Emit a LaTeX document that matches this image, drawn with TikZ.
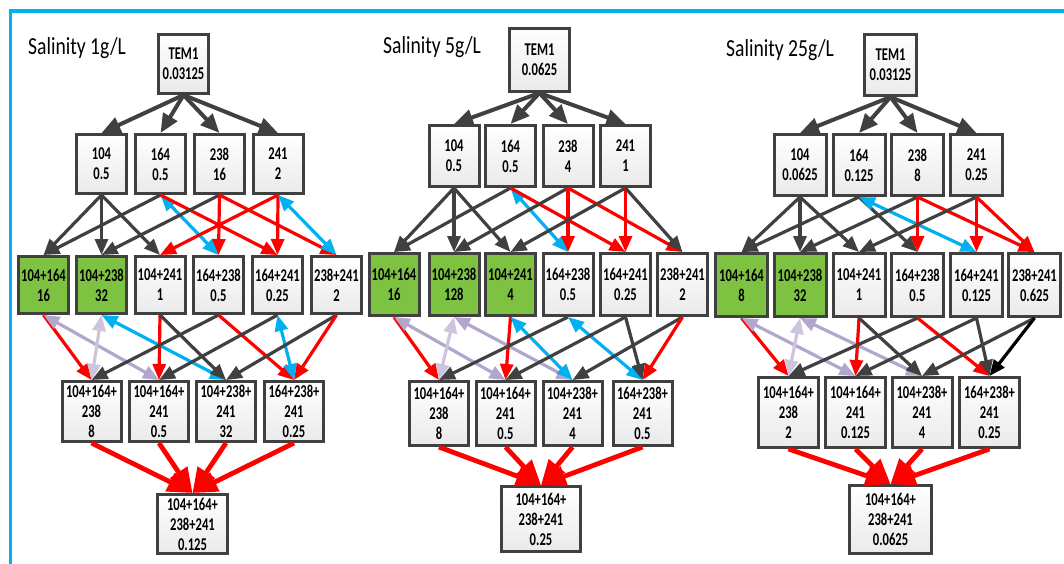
\documentclass[tikz,border=0pt]{standalone}
\usepackage{fontspec}
\setmainfont{Carlito}
\newfontfamily\cellfam{Carlito}[FakeStretch=0.7, BoldFeatures={FakeStretch=0.7}]
\newfontfamily\titlefam{Carlito}[FakeStretch=0.8]
\usetikzlibrary{arrows.meta,shadows}

\definecolor{framblue}{HTML}{00B0F0}
\definecolor{boxline}{HTML}{404040}
\definecolor{boxfill}{HTML}{EAEAEA}
\definecolor{boxgreen}{HTML}{7EC242}
\definecolor{arrdark}{HTML}{404040}
\definecolor{arrred}{HTML}{FF0000}
\definecolor{arrblue}{HTML}{00B0F0}
\definecolor{arrlav}{HTML}{B2A6CC}
\definecolor{arrlavlt}{HTML}{CDC5DD}

\newcommand\cellfont{\cellfam\fontsize{18}{20}\selectfont\bfseries}

% arrows between two rows: #1 = panel prefix, #2 = source/target/style list
\newcommand\linkset[2]{\foreach \s/\t/\k in {#2}{\draw[\k] (#1\s.south) -- (#1\t.north);}}

\tikzset{
  cell/.style 2 args={draw=boxline, line width=3pt, minimum width=#1, minimum height=#2,
    inner sep=0pt, align=center, font=\cellfont,
    drop shadow={shadow xshift=1.5pt, shadow yshift=-1.5pt, opacity=0.18}},
  plaincell/.style 2 args={cell={#1}{#2}, top color=white, bottom color=boxfill},
  greencell/.style 2 args={cell={#1}{#2}, fill=boxgreen},
  paneltitle/.style={anchor=west, inner sep=0pt, font=\titlefam\fontsize{24.5}{26}\selectfont},
  framestroke/.style={draw=framblue, line width=3.6pt},
  toparr/.style={line width=4pt, draw=arrdark, -{Triangle[length=19pt,width=16pt]}},
  midline/.style={line width=3.2pt, >={Triangle[length=16pt,width=13pt]}},
  darkarr/.style={midline, draw=arrdark, ->},
  redarr/.style={midline, draw=arrred, ->},
  bluearr/.style={midline, draw=arrblue, <->},
  lavarr/.style={midline, draw=arrlav, <->},
  lavltarr/.style={midline, draw=arrlavlt, <->},
  blackarr/.style={midline, draw=black, ->},
  finarr/.style={line width=4.8pt, draw=arrred, -{Triangle[length=25pt,width=20pt]}},
}

\begin{document}
\begin{tikzpicture}[x=1pt, y=-1pt]
\useasboundingbox (0,0) rectangle (1064,563);

% outer frame
\draw[framestroke] (10.3,565) -- (10.3,11) -- (1066,11);

% ---------------- Salinity 1g/L ----------------
\node[paneltitle] (ttlA) at (28,48) {Salinity 1g/L};
\node[plaincell={50}{59}] (A0) at (183.5,64) {TEM1\\0.03125};
\node[plaincell={50}{59}] (A1) at (101.5,164) {104\\0.5};
\node[plaincell={50}{59}] (A2) at (160.5,164) {164\\0.5};
\node[plaincell={50}{59}] (A3) at (219.5,164) {238\\16};
\node[plaincell={50}{59}] (A4) at (278,164) {241\\2};
\node[greencell={50}{57}] (A12) at (43.5,285) {104+164\\16};
\node[greencell={50}{57}] (A13) at (101.5,285) {104+238\\32};
\node[plaincell={50}{57}] (A14) at (160,285) {104+241\\1};
\node[plaincell={50}{57}] (A23) at (218.5,285) {164+238\\0.5};
\node[plaincell={50}{57}] (A24) at (277.5,285) {164+241\\0.25};
\node[plaincell={50}{57}] (A34) at (336.5,285) {238+241\\2};
\node[plaincell={59}{60}] (A123) at (91.5,411.5) {104+164+\\238\\8};
\node[plaincell={59}{60}] (A124) at (159,411.5) {104+164+\\241\\0.5};
\node[plaincell={59}{60}] (A134) at (226,411.5) {104+238+\\241\\32};
\node[plaincell={59}{60}] (A234) at (294,411.5) {164+238+\\241\\0.25};
\node[plaincell={70}{59}] (A1234) at (192.5,524) {104+164+\\238+241\\0.125};

% ---------------- Salinity 5g/L ----------------
\node[paneltitle] (ttlB) at (383,47) {Salinity 5g/L};
\node[plaincell={60}{63}] (B0) at (539.5,60) {TEM1\\0.0625};
\node[plaincell={50}{61}] (B1) at (454,156) {104\\0.5};
\node[plaincell={50}{61}] (B2) at (510.5,156) {164\\0.5};
\node[plaincell={50}{61}] (B3) at (568,156) {238\\4};
\node[plaincell={50}{61}] (B4) at (625.5,156) {241\\1};
\node[greencell={50}{62}] (B12) at (394,284.5) {104+164\\16};
\node[greencell={50}{62}] (B13) at (454,284.5) {104+238\\128};
\node[greencell={50}{62}] (B14) at (510.5,284.5) {104+241\\4};
\node[plaincell={50}{62}] (B23) at (568,284.5) {164+238\\0.5};
\node[plaincell={50}{62}] (B24) at (625.5,284.5) {164+241\\0.25};
\node[plaincell={50}{62}] (B34) at (682.5,284.5) {238+241\\2};
\node[plaincell={59}{64}] (B123) at (439,413.5) {104+164+\\238\\8};
\node[plaincell={59}{64}] (B124) at (505.5,413.5) {104+164+\\241\\0.5};
\node[plaincell={59}{64}] (B134) at (572.5,413.5) {104+238+\\241\\4};
\node[plaincell={59}{64}] (B234) at (642.5,413.5) {164+238+\\241\\0.5};
\node[plaincell={79}{65}] (B1234) at (541,519) {104+164+\\238+241\\0.25};

% ---------------- Salinity 25g/L ----------------
\node[paneltitle] (ttlC) at (726,50) {Salinity 25g/L};
\node[plaincell={52}{61}] (C0) at (890.5,65) {TEM1\\0.03125};
\node[plaincell={52}{61}] (C1) at (800,165) {104\\0.0625};
\node[plaincell={52}{61}] (C2) at (859,165) {164\\0.125};
\node[plaincell={52}{61}] (C3) at (917.5,165) {238\\8};
\node[plaincell={52}{61}] (C4) at (976.5,165) {241\\0.25};
\node[greencell={52}{63}] (C12) at (741.5,285) {104+164\\8};
\node[greencell={52}{63}] (C13) at (800,285) {104+238\\32};
\node[plaincell={52}{63}] (C14) at (859,285) {104+241\\1};
\node[plaincell={52}{63}] (C23) at (917.5,285) {164+238\\0.5};
\node[plaincell={52}{63}] (C24) at (976.5,285) {164+241\\0.125};
\node[plaincell={52}{63}] (C34) at (1034.5,285) {238+241\\0.625};
\node[plaincell={60}{70}] (C123) at (788.5,412.5) {104+164+\\238\\2};
\node[plaincell={60}{70}] (C124) at (855.5,412.5) {104+164+\\241\\0.125};
\node[plaincell={60}{70}] (C134) at (922,412.5) {104+238+\\241\\4};
\node[plaincell={60}{70}] (C234) at (989.5,412.5) {164+238+\\241\\0.25};
\node[plaincell={82}{68}] (C1234) at (890.5,519.5) {104+164+\\238+241\\0.0625};

% ---------------- connectors ----------------
\foreach \p in {A,B,C}{
  \foreach \t in {1,2,3,4}{\draw[toparr] (\p0.south) -- (\p\t.north);}
  \foreach \t in {123,124,134,234}{\draw[finarr] (\p\t.south) -- (\p1234.north);}
}

% single agents to pairs
\linkset{A}{1/12/darkarr, 1/13/darkarr, 1/14/darkarr,
  2/12/darkarr, 2/23/bluearr, 2/24/redarr,
  3/13/darkarr, 3/23/redarr, 3/34/redarr,
  4/14/redarr, 4/24/redarr, 4/34/bluearr}
\linkset{B}{1/12/darkarr, 1/13/darkarr, 1/14/darkarr,
  2/12/darkarr, 2/23/bluearr, 2/24/redarr,
  3/13/darkarr, 3/23/redarr, 3/34/redarr,
  4/14/darkarr, 4/24/redarr, 4/34/darkarr}
\linkset{C}{1/12/darkarr, 1/13/darkarr, 1/14/darkarr,
  2/12/darkarr, 2/23/darkarr, 2/24/bluearr,
  3/13/darkarr, 3/23/redarr, 3/34/redarr,
  4/14/darkarr, 4/24/redarr, 4/34/redarr}

% pairs to triples
\linkset{A}{12/123/redarr, 12/124/lavarr,
  13/123/lavltarr, 13/134/bluearr,
  14/124/redarr, 14/134/darkarr,
  23/123/darkarr, 23/234/redarr,
  24/124/darkarr, 24/234/bluearr,
  34/134/darkarr, 34/234/redarr}
\linkset{B}{12/123/redarr, 12/124/lavarr,
  13/123/lavltarr, 13/134/lavarr,
  14/124/redarr, 14/134/bluearr,
  23/123/darkarr, 23/234/bluearr,
  24/124/darkarr, 24/234/darkarr,
  34/134/darkarr, 34/234/redarr}
\linkset{C}{12/123/redarr, 12/124/lavarr,
  13/123/lavltarr, 13/134/lavarr,
  14/124/redarr, 14/134/darkarr,
  23/123/darkarr, 23/234/redarr,
  24/124/darkarr, 24/234/darkarr,
  34/134/darkarr, 34/234/blackarr}
\end{tikzpicture}
\end{document}
